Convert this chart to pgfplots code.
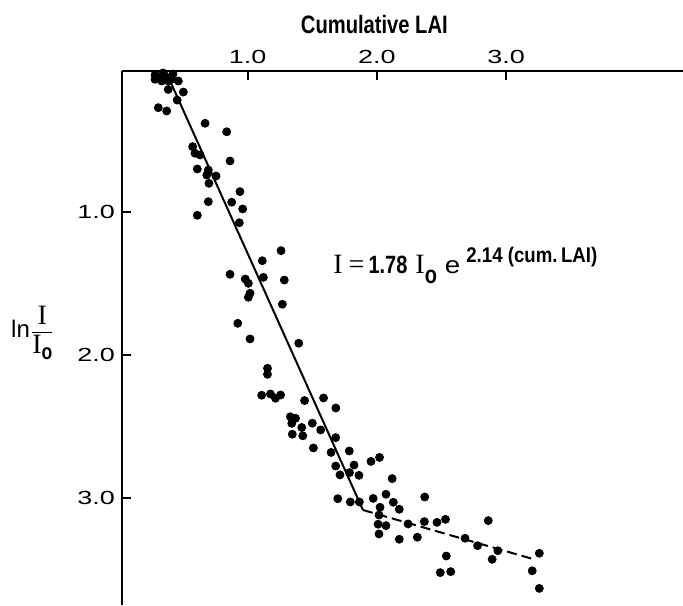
\documentclass[border=0pt]{standalone}
\usepackage{fontspec}
\setmainfont{Liberation Serif}
\setsansfont{Liberation Sans}
\newfontfamily\tickfont{Liberation Sans}[FakeStretch=1.42]
\newfontfamily\condsans{Liberation Sans}[FakeStretch=0.8]
\newfontfamily\semisans{Liberation Sans}[FakeStretch=0.88]
\newfontfamily\widesans{Liberation Sans}[FakeStretch=1.15]
\usepackage{pgfplots}
\pgfplotsset{compat=1.18}
\begin{document}
\begin{tikzpicture}
\begin{axis}[
  scale only axis, width=280.5pt, height=267pt,
  xmin=0.027, xmax=4.369, ymin=0.018, ymax=3.745,
  y dir=reverse,
  axis x line*=top, axis y line*=left,
  axis line style={-, line width=1.1pt, black},
  tick align=inside, major tick length=4.5pt,
  tick style={line width=1pt, black},
  xtick={1,2,3}, xticklabels={1.0,2.0,3.0},
  ytick={1,2,3}, yticklabels={1.0,2.0,3.0},
  ticklabel style={font=\tickfont\fontsize{9.5}{10}\selectfont},
  clip=false,
]
\coordinate (TL) at (rel axis cs:0,1);
\coordinate (BR) at (rel axis cs:1,0);
\addplot[only marks, mark=*, mark size=2pt, black] coordinates {
(0.2825,0.076) (0.321,0.065) (0.360,0.053) (0.385,0.088) (0.412,0.076)
(0.463,0.088) (0.2825,0.046) (0.334,0.088) (0.385,0.147) (0.502,0.165)
(0.454,0.221) (0.308,0.274) (0.373,0.297) (0.344,0.032) (0.422,0.039)
(0.670,0.383) (0.837,0.442) (0.574,0.546) (0.592,0.592) (0.631,0.604)
(0.863,0.646) (0.610,0.702) (0.695,0.709) (0.683,0.744) (0.755,0.751)
(0.700,0.802) (0.940,0.860) (0.695,0.930) (0.876,0.934) (0.961,0.981)
(0.610,1.025) (0.935,1.077) (1.258,1.272) (1.113,1.342) (0.863,1.437)
(0.981,1.470) (1.005,1.500) (1.121,1.458) (1.283,1.477) (1.018,1.569)
(1.005,1.597) (1.268,1.646) (0.923,1.779) (1.018,1.888) (1.395,1.918)
(1.153,2.093) (1.153,2.135) (1.108,2.281) (1.176,2.272) (1.215,2.302)
(1.254,2.279) (1.440,2.318) (1.587,2.300) (1.682,2.370) (1.330,2.431)
(1.370,2.442) (1.341,2.477) (1.418,2.506) (1.500,2.476) (1.565,2.523)
(1.345,2.553) (1.426,2.564) (1.681,2.577) (1.508,2.649) (1.786,2.670)
(1.645,2.680) (1.681,2.775) (1.823,2.768) (1.954,2.743) (2.020,2.715)
(1.714,2.837) (1.788,2.821) (1.861,2.840) (2.118,2.863) (1.697,3.003)
(1.971,3.001) (2.070,2.972) (1.794,3.026) (1.864,3.026) (2.127,3.028)
(2.370,2.991) (2.024,3.063) (2.173,3.077) (2.016,3.117) (2.009,3.181)
(2.070,3.191) (2.016,3.249) (2.173,3.286) (2.241,3.179) (2.313,3.272)
(2.367,3.163) (2.465,3.168) (2.531,3.147) (2.862,3.156) (2.682,3.279)
(2.779,3.331) (2.936,3.366) (2.892,3.426) (2.537,3.403) (2.490,3.519)
(2.571,3.512) (3.257,3.384) (3.202,3.506) (3.257,3.629)
};
\addplot[line width=1pt, black] coordinates {(0.368,0.025) (1.892,3.082)};
\addplot[line width=1pt, black, dash pattern=on 5pt off 2.5pt] coordinates {(1.892,3.082) (3.208,3.424)};
\node[anchor=base, font=\condsans\bfseries\fontsize{12.6}{14}\selectfont] at (axis cs:1.98,-0.247) {Cumulative LAI};
\node[anchor=base west, inner sep=0pt] at (axis cs:1.660,1.428) {\fontsize{14}{16}\selectfont I\hspace{3pt}=\hspace{2pt}{\condsans\bfseries\fontsize{12.5}{12}\selectfont 1.78}\hspace{4pt}I\raisebox{-5pt}{\condsans\bfseries\fontsize{12.5}{12}\selectfont o}\hspace{4pt}{\widesans\fontsize{12}{12}\selectfont e}\hspace{3pt}\raisebox{5.5pt}{\semisans\bfseries\fontsize{10.6}{11}\selectfont 2.14 (cum.\,LAI)}};
\node[inner sep=0pt] at (axis cs:-0.662,1.846) {{\sffamily\fontsize{12}{12}\selectfont ln}$\displaystyle\frac{\hbox{\fontsize{14}{15}\selectfont I}}{\hbox{\fontsize{14}{15}\selectfont I\raisebox{-3pt}{\condsans\bfseries\fontsize{11}{11}\selectfont o}}}$};
\end{axis}
\pgfresetboundingbox
\path (TL) ++(-61pt,35.5pt) rectangle (BR);
\end{tikzpicture}
\end{document}
